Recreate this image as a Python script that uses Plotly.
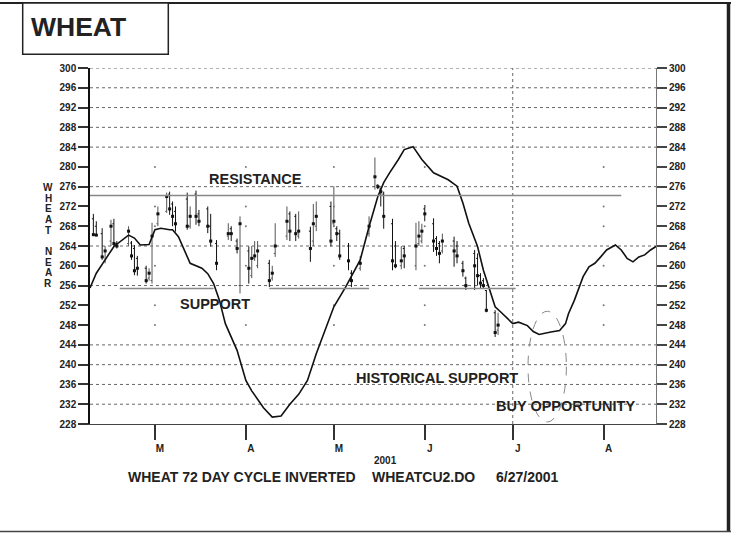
import plotly.graph_objects as go

# ---------------- data ----------------
month_ticks = ["2001-03-01", "2001-04-01", "2001-05-01", "2001-06-01", "2001-07-01", "2001-08-01"]
month_labels = ["M", "A", "M", "J", "J", "A"]
price_ticks = list(range(228, 301, 4))
grid_levels = [300, 296, 292, 288, 284, 276, 264, 256, 244, 240, 236, 232]
dot_levels = [280, 272, 268, 260, 252, 248]
dot_months = ["2001-03-01", "2001-04-01", "2001-05-01", "2001-06-01", "2001-08-01"]

bar_dates = ["2001-02-08", "2001-02-09", "2001-02-11", "2001-02-12", "2001-02-14", "2001-02-15",
             "2001-02-16", "2001-02-20", "2001-02-21", "2001-02-22", "2001-02-23", "2001-02-26",
             "2001-02-27", "2001-02-28", "2001-03-02", "2001-03-05", "2001-03-06", "2001-03-07",
             "2001-03-08", "2001-03-12", "2001-03-13", "2001-03-15", "2001-03-16", "2001-03-19",
             "2001-03-20", "2001-03-22", "2001-03-26", "2001-03-27", "2001-03-29", "2001-03-30",
             "2001-04-02", "2001-04-03", "2001-04-04", "2001-04-05", "2001-04-09", "2001-04-10",
             "2001-04-11", "2001-04-15", "2001-04-16", "2001-04-18", "2001-04-19", "2001-04-23",
             "2001-04-24", "2001-04-25", "2001-04-30", "2001-05-01", "2001-05-02", "2001-05-03",
             "2001-05-06", "2001-05-07", "2001-05-10", "2001-05-13", "2001-05-15", "2001-05-16",
             "2001-05-17", "2001-05-18", "2001-05-21", "2001-05-22", "2001-05-24", "2001-05-25",
             "2001-05-29", "2001-05-30", "2001-05-31", "2001-06-01", "2001-06-04", "2001-06-05",
             "2001-06-06", "2001-06-07", "2001-06-11", "2001-06-12", "2001-06-14", "2001-06-15",
             "2001-06-18", "2001-06-19", "2001-06-20", "2001-06-21", "2001-06-22", "2001-06-25",
             "2001-06-26"]
bar_high = [270.5, 269.0, 267.6, 264.0, 269.3, 269.5, 265.0, 268.0, 265.0, 264.2, 262.0, 260.0,
            259.5, 268.7, 272.0, 274.8, 275.0, 273.0, 272.0, 274.8, 272.0, 275.2, 271.3, 272.0,
            270.5, 265.2, 268.6, 268.0, 265.5, 270.0, 263.9, 264.0, 265.0, 265.0, 261.2, 260.0,
            268.6, 272.0, 271.0, 270.5, 271.0, 267.9, 272.5, 273.0, 273.0, 276.1, 268.0, 267.3,
            264.6, 259.1, 262.0, 270.0, 281.9, 276.5, 275.8, 275.0, 269.5, 265.0, 264.0, 264.0,
            268.7, 269.0, 268.5, 272.3, 269.6, 266.0, 265.0, 266.5, 265.9, 265.0, 261.0, 257.8,
            263.2, 262.5, 258.5, 257.5, 255.1, 251.0, 250.5]
bar_low = [266.0, 266.0, 261.2, 260.5, 264.0, 263.9, 263.5, 264.0, 261.2, 258.1, 258.0, 256.4,
           257.0, 256.4, 268.0, 270.7, 270.3, 268.0, 266.9, 267.3, 267.5, 268.3, 268.0, 266.6,
           263.9, 259.1, 265.2, 265.0, 262.5, 254.4, 256.4, 257.5, 261.0, 259.5, 255.7, 257.0,
           261.8, 265.2, 265.0, 265.0, 265.5, 260.8, 264.0, 267.0, 263.9, 267.9, 265.0, 261.2,
           259.1, 255.7, 259.0, 265.9, 275.4, 275.5, 272.0, 267.5, 259.1, 259.5, 259.3, 259.5,
           259.1, 264.0, 264.5, 269.0, 262.8, 262.0, 260.5, 262.5, 259.8, 260.5, 257.8, 255.1,
           255.1, 256.0, 255.5, 255.5, 250.6, 245.6, 246.0]
bar_open = [269.5, 268.0, 266.5, 261.0, 265.0, 268.5, 264.5, 264.5, 264.6, 263.5, 261.5, 259.5,
            257.5, 257.0, 268.5, 271.0, 274.5, 272.5, 271.0, 273.5, 268.0, 274.5, 270.5, 271.5,
            268.0, 264.5, 266.0, 267.5, 265.0, 256.0, 263.0, 258.0, 261.5, 260.0, 260.5, 257.5,
            262.5, 266.0, 270.5, 270.0, 266.0, 267.0, 265.0, 268.0, 272.0, 268.5, 267.5, 266.5,
            264.0, 258.5, 259.5, 266.5, 276.0, 276.3, 275.5, 274.5, 268.5, 264.0, 260.0, 263.5,
            260.0, 264.5, 265.0, 271.5, 268.5, 265.5, 264.5, 263.0, 265.0, 264.0, 260.5, 257.5,
            262.5, 261.5, 258.0, 257.0, 255.0, 250.5, 247.0]
bar_close = [266.3, 266.2, 261.8, 263.0, 268.0, 264.5, 264.0, 267.0, 262.0, 259.0, 259.5, 257.0,
             258.5, 266.0, 270.5, 274.0, 271.5, 270.0, 268.5, 268.0, 270.0, 270.0, 269.0, 268.0,
             265.0, 260.5, 266.5, 266.5, 263.5, 268.5, 259.5, 261.5, 262.0, 263.0, 257.0, 258.5,
             264.0, 269.0, 267.0, 266.5, 267.0, 263.5, 268.5, 270.0, 265.0, 269.0, 266.5, 262.0,
             261.0, 257.0, 260.5, 268.0, 278.0, 276.0, 275.0, 270.0, 261.0, 260.0, 261.0, 262.0,
             264.0, 266.0, 267.0, 270.5, 265.0, 263.5, 262.5, 265.0, 263.0, 262.0, 259.0, 256.0,
             260.0, 258.0, 256.5, 256.0, 251.0, 246.5, 248.0]

cycle_dates = ["2001-02-06 20:24", "2001-02-09", "2001-02-12", "2001-02-15", "2001-02-20", "2001-02-22",
               "2001-02-24", "2001-02-27", "2001-03-01", "2001-03-03", "2001-03-06", "2001-03-07",
               "2001-03-09", "2001-03-11", "2001-03-13", "2001-03-17", "2001-03-19", "2001-03-21",
               "2001-03-23", "2001-03-25", "2001-03-29", "2001-04-01", "2001-04-03", "2001-04-07",
               "2001-04-10", "2001-04-13", "2001-04-16", "2001-04-19", "2001-04-22", "2001-04-25",
               "2001-04-28", "2001-05-01", "2001-05-05", "2001-05-10", "2001-05-13", "2001-05-16",
               "2001-05-18", "2001-05-20", "2001-05-23", "2001-05-25", "2001-05-28", "2001-05-31",
               "2001-06-04", "2001-06-09", "2001-06-12", "2001-06-14", "2001-06-16", "2001-06-19",
               "2001-06-21", "2001-06-23", "2001-06-25", "2001-06-27", "2001-06-29", "2001-07-01",
               "2001-07-03", "2001-07-06", "2001-07-08", "2001-07-10", "2001-07-14", "2001-07-17",
               "2001-07-19", "2001-07-20", "2001-07-22", "2001-07-24", "2001-07-25", "2001-07-27",
               "2001-07-29", "2001-07-31", "2001-08-02", "2001-08-05", "2001-08-07", "2001-08-09",
               "2001-08-11", "2001-08-13", "2001-08-15", "2001-08-17", "2001-08-18 20:24"]
cycle_values = [255.5, 258.5, 261.2, 263.9, 266.2, 265.6, 264.2, 264.3, 267.3, 267.6, 267.3, 267.3,
                265.9, 263.2, 260.5, 259.5, 258.4, 256.4, 253.0, 248.3, 242.9, 236.8, 234.7, 231.3,
                229.4, 229.6, 232.0, 234.0, 236.8, 242.2, 246.9, 251.7, 255.7, 261.2, 267.9, 274.0,
                276.8, 278.8, 281.5, 283.5, 284.1, 281.5, 278.8, 277.4, 276.1, 272.7, 268.6, 263.9,
                259.1, 255.5, 251.7, 250.6, 249.5, 248.3, 248.6, 247.9, 246.7, 246.1, 246.6, 246.9,
                248.3, 250.3, 253.0, 256.4, 257.8, 259.8, 260.5, 261.8, 263.2, 264.2, 263.2, 261.5,
                260.8, 261.8, 262.2, 263.2, 263.9]

resistance_level = 274.2
resistance_span = ("2001-02-06 20:24", "2001-08-07")
support_level = 255.4
support_spans = [("2001-02-17", "2001-03-21"), ("2001-04-09", "2001-05-13"), ("2001-05-30", "2001-07-02")]
x_range = ["2001-02-06 20:24", "2001-08-18 20:24"]
y_range = [228, 300]
marker_date = "2001-07-01"
ellipse_box = ("2001-07-06 05:00", "2001-07-19 07:00", 228.4, 250.8)
axis_title_letters = ["W", "H", "E", "A", "T", "", "N", "E", "A", "R"]

# ---------------- layout helpers ----------------
W, H = 731, 533
ML, MR, MT, MB = 90, 75, 68, 109
FONT = "Liberation Sans, Arial, Helvetica, sans-serif"


def px(x):
    return (x - ML) / (W - ML - MR)


def py(y):
    return (H - MB - y) / (H - MT - MB)


fig = go.Figure()

# month/level grid dots
dx, dy = [], []
for m in dot_months:
    for lv in dot_levels:
        dx.append(m)
        dy.append(lv)
fig.add_trace(go.Scatter(x=dx, y=dy, mode="markers", marker=dict(size=2, color="#777"),
                         showlegend=False, hoverinfo="skip"))

# cycle line
fig.add_trace(go.Scatter(x=cycle_dates, y=cycle_values, mode="lines",
                         line=dict(color="#111", width=1.6), showlegend=False, hoverinfo="skip"))

# price bars
fig.add_trace(go.Ohlc(x=bar_dates, open=bar_open, high=bar_high, low=bar_low, close=bar_close,
                      increasing=dict(line=dict(color="#555", width=1)),
                      decreasing=dict(line=dict(color="#111", width=1)),
                      tickwidth=0.5, showlegend=False, hoverinfo="skip"))
fig.add_trace(go.Scatter(x=bar_dates, y=bar_close, mode="markers",
                         marker=dict(symbol="square", size=3, color="#111"),
                         showlegend=False, hoverinfo="skip"))

# invisible trace for the right axis
fig.add_trace(go.Scatter(x=[x_range[0]], y=[264], yaxis="y2", mode="markers",
                         marker=dict(opacity=0), showlegend=False, hoverinfo="skip"))

shapes = []
for lv in grid_levels:
    shapes.append(dict(type="line", xref="paper", yref="y", x0=0, x1=1, y0=lv, y1=lv,
                       line=dict(color="#666", width=1, dash="dot"), layer="below"))
shapes.append(dict(type="line", xref="x", yref="paper", x0=marker_date, x1=marker_date, y0=0, y1=1,
                   line=dict(color="#666", width=1, dash="dot"), layer="below"))
shapes.append(dict(type="line", xref="x", yref="y", x0=resistance_span[0], x1=resistance_span[1],
                   y0=resistance_level, y1=resistance_level, line=dict(color="#888", width=1.5)))
for s0, s1 in support_spans:
    shapes.append(dict(type="line", xref="x", yref="y", x0=s0, x1=s1, y0=support_level, y1=support_level,
                       line=dict(color="#888", width=1.5)))
shapes.append(dict(type="circle", xref="x", yref="y", x0=ellipse_box[0], x1=ellipse_box[1],
                   y0=ellipse_box[2], y1=ellipse_box[3], line=dict(color="#888", width=1, dash="dash")))
# frame and title box
shapes.append(dict(type="line", xref="paper", yref="paper", x0=px(0), x1=px(W), y0=py(3), y1=py(3),
                   line=dict(color="#222", width=2)))
shapes.append(dict(type="line", xref="paper", yref="paper", x0=px(728.5), x1=px(728.5), y0=py(3), y1=py(531.5),
                   line=dict(color="#222", width=3.5)))
shapes.append(dict(type="line", xref="paper", yref="paper", x0=px(0), x1=px(W), y0=py(531.5), y1=py(531.5),
                   line=dict(color="#444", width=1.5)))
shapes.append(dict(type="rect", xref="paper", yref="paper", x0=px(22.7), x1=px(168.3), y0=py(54.3), y1=py(3),
                   line=dict(color="#222", width=1.5), fillcolor="white"))

bold = dict(family=FONT, color="#222", weight="bold")
annotations = [
    dict(text="WHEAT", xref="paper", yref="paper", x=px(78.5), y=py(27), showarrow=False,
         font=dict(bold, size=26.5), xanchor="center", yanchor="middle"),
    dict(text="RESISTANCE", xref="x", yref="y", x="2001-04-04 07:00", y=277.6, showarrow=False,
         font=dict(bold, size=14.5), xanchor="center", yanchor="middle"),
    dict(text="SUPPORT", xref="x", yref="y", x="2001-03-21 10:00", y=252.2, showarrow=False,
         font=dict(bold, size=14.5), xanchor="center", yanchor="middle"),
    dict(text="HISTORICAL SUPPORT", xref="x", yref="y", x="2001-06-05 03:00", y=237.4, showarrow=False,
         font=dict(bold, size=14.5), xanchor="center", yanchor="middle"),
    dict(text="BUY OPPORTUNITY", xref="x", yref="y", x="2001-07-18 22:00", y=231.7, showarrow=False,
         font=dict(bold, size=14.5), xanchor="center", yanchor="middle"),
    dict(text="2001", xref="paper", yref="paper", x=px(385), y=py(460), showarrow=False,
         font=dict(bold, size=10), xanchor="center", yanchor="middle"),
    dict(text="WHEAT 72 DAY CYCLE INVERTED", xref="paper", yref="paper", x=px(242), y=py(477),
         showarrow=False, font=dict(bold, size=14), xanchor="center", yanchor="middle"),
    dict(text="WHEATCU2.DO", xref="paper", yref="paper", x=px(423.5), y=py(477),
         showarrow=False, font=dict(bold, size=14), xanchor="center", yanchor="middle"),
    dict(text="6/27/2001", xref="paper", yref="paper", x=px(526.5), y=py(477),
         showarrow=False, font=dict(bold, size=14), xanchor="center", yanchor="middle"),
]
for i, ch in enumerate(axis_title_letters):
    if ch:
        annotations.append(dict(text=ch, xref="paper", yref="y", x=px(48), y=275.8 - 2.15 * i,
                                showarrow=False, font=dict(bold, size=10),
                                xanchor="center", yanchor="middle"))

tickfont = dict(family=FONT, size=10, color="#222", weight="bold")
fig.update_layout(
    width=W, height=H, autosize=False,
    margin=dict(l=ML, r=MR, t=MT, b=MB, pad=0),
    paper_bgcolor="white", plot_bgcolor="white",
    showlegend=False,
    shapes=shapes, annotations=annotations,
    xaxis=dict(type="date", range=x_range, tickvals=month_ticks, ticktext=month_labels,
               ticks="outside", ticklen=15, tickwidth=1.5, tickcolor="#333",
               tickfont=tickfont, ticklabelshift=5, showgrid=False, zeroline=False,
               showline=True, linecolor="#444", linewidth=1, rangeslider=dict(visible=False)),
    yaxis=dict(range=y_range, tickvals=price_ticks, ticks="outside", ticklen=10, tickwidth=1.5,
               tickcolor="#333", tickfont=tickfont, showgrid=False, zeroline=False,
               showline=True, linecolor="#111", linewidth=1.5),
    yaxis2=dict(range=y_range, tickvals=price_ticks, overlaying="y", side="right", anchor="x",
                ticks="outside", ticklen=10, tickwidth=1.5, tickcolor="#444", tickfont=tickfont,
                showgrid=False, zeroline=False, showline=True, linecolor="#777", linewidth=1),
)

fig.write_html("out.html", config={"displayModeBar": False},
               post_script="document.body.style.margin='0';document.body.style.overflow='hidden';")
